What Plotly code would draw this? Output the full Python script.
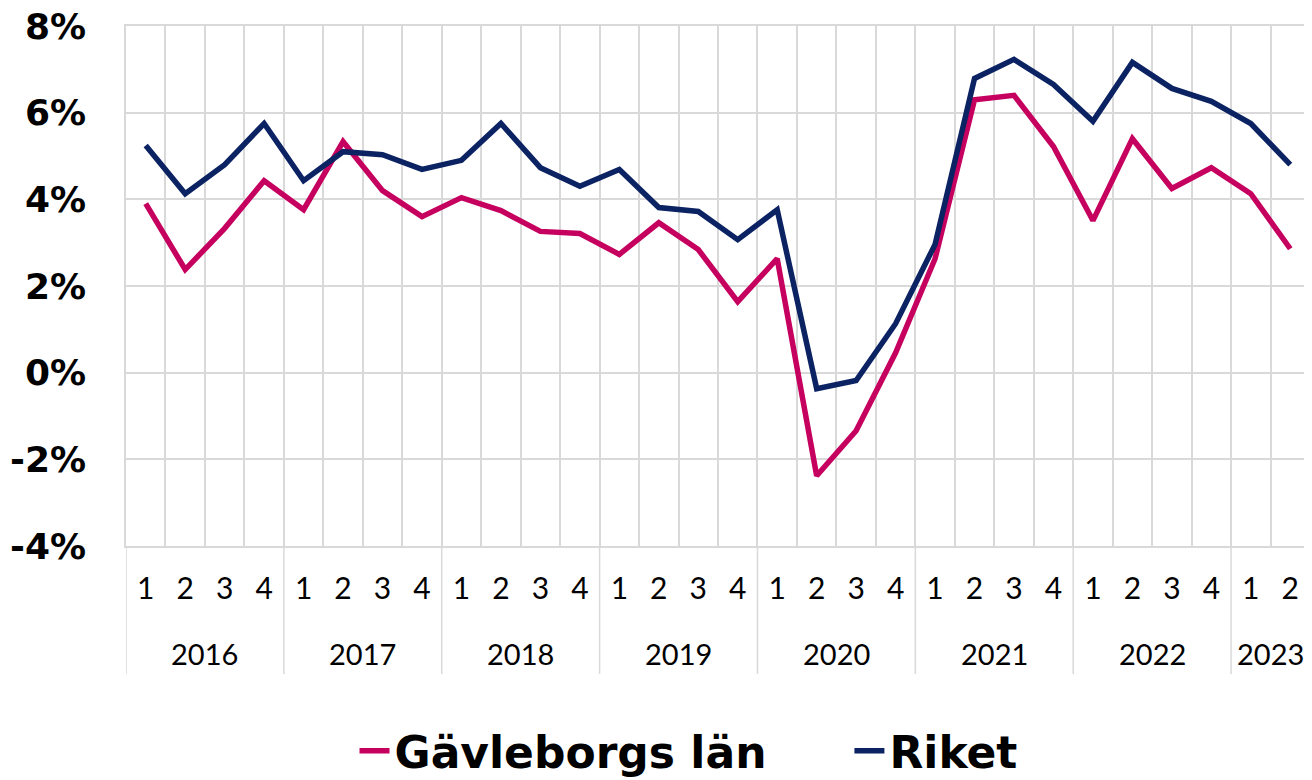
import plotly.graph_objects as go

years = ["2016"] * 4 + ["2017"] * 4 + ["2018"] * 4 + ["2019"] * 4 + ["2020"] * 4 + ["2021"] * 4 + ["2022"] * 4 + ["2023"] * 2
quarters = ["1", "2", "3", "4"] * 7 + ["1", "2"]

gavleborg = [
    3.90, 2.38, 3.33, 4.43,
    3.76, 5.33, 4.20, 3.60,
    4.04, 3.74, 3.26, 3.21,
    2.73, 3.46, 2.84, 1.64,
    2.63, -2.38, -1.34, 0.46,
    2.63, 6.30, 6.40, 5.22,
    3.51, 5.40, 4.25, 4.73,
    4.13, 2.86,
]
riket = [
    5.24, 4.13, 4.80, 5.75,
    4.43, 5.10, 5.03, 4.69,
    4.90, 5.75, 4.73, 4.30,
    4.69, 3.81, 3.72, 3.07,
    3.76, -0.37, -0.18, 1.13,
    2.96, 6.79, 7.23, 6.65,
    5.80, 7.16, 6.56, 6.26,
    5.75, 4.80,
]
y_ticks = [-4, -2, 0, 2, 4, 6, 8]

PINK = "#c6005f"
NAVY = "#0b2263"
GRID = "#d9d9d9"
FONT = "Lato"
BOLD_FONT = "DejaVu Sans"

categories = [f"{y} K{q}" for y, q in zip(years, quarters)]

fig = go.Figure()
fig.add_trace(go.Scatter(
    x=categories, y=gavleborg, mode="lines", name="Gävleborgs län",
    line={"color": PINK, "width": 5.5}, legend="legend",
))
fig.add_trace(go.Scatter(
    x=categories, y=riket, mode="lines", name="Riket",
    line={"color": NAVY, "width": 5.5}, legend="legend2",
))

# year labels and dividers below the quarter labels
year_order = list(dict.fromkeys(years))
start = 0
for year in year_order:
    count = years.count(year)
    fig.add_annotation(
        x=start + (count - 1) / 2, y=-0.207, xref="x", yref="paper",
        text=year, showarrow=False, yanchor="middle",
        font={"family": FONT, "size": 29, "color": "#000000"},
    )
    fig.add_shape(
        type="line", xref="x", yref="paper",
        x0=start - 0.5, x1=start - 0.5, y0=0, y1=-0.246,
        line={"color": GRID, "width": 1.5},
    )
    start += count
fig.add_shape(
    type="line", xref="x", yref="paper",
    x0=start - 0.5, x1=start - 0.5, y0=0, y1=-0.246,
    line={"color": GRID, "width": 1.5},
)

legend_style = {
    "orientation": "h",
    "xanchor": "left",
    "y": -0.392,
    "yanchor": "middle",
    "font": {"family": BOLD_FONT, "size": 44, "color": "#000000", "weight": "bold"},
    "itemwidth": 30,
}

# the page body adds an 8px offset, so the margins are shifted by that much
fig.update_layout(
    width=1304,
    height=780,
    margin={"l": 118, "r": 2, "t": 18, "b": 241},
    paper_bgcolor="#ffffff",
    plot_bgcolor="#ffffff",
    showlegend=True,
    legend={**legend_style, "x": 0.193},
    legend2={**legend_style, "x": 0.611},
)
fig.update_xaxes(
    type="category",
    range=[-0.5, len(categories) - 0.5],
    tickvals=categories,
    ticktext=quarters,
    tickson="boundaries",
    showgrid=True,
    gridcolor=GRID,
    gridwidth=1.5,
    showline=True,
    mirror=True,
    linecolor=GRID,
    linewidth=1.5,
    ticks="",
    ticklabelstandoff=15,
    automargin=False,
    tickfont={"family": FONT, "size": 30, "color": "#000000"},
)
fig.update_yaxes(
    range=[-4, 8],
    tickvals=y_ticks,
    ticktext=[f"{v}%" for v in y_ticks],
    showgrid=True,
    gridcolor=GRID,
    gridwidth=1.5,
    zeroline=False,
    showline=True,
    mirror=True,
    linecolor=GRID,
    linewidth=1.5,
    ticks="outside",
    ticklen=31,
    tickcolor="rgba(0,0,0,0)",
    ticklabeloverflow="allow",
    automargin=False,
    tickfont={"family": BOLD_FONT, "size": 36, "color": "#000000", "weight": "bold"},
)

fig.write_html("out.html")
